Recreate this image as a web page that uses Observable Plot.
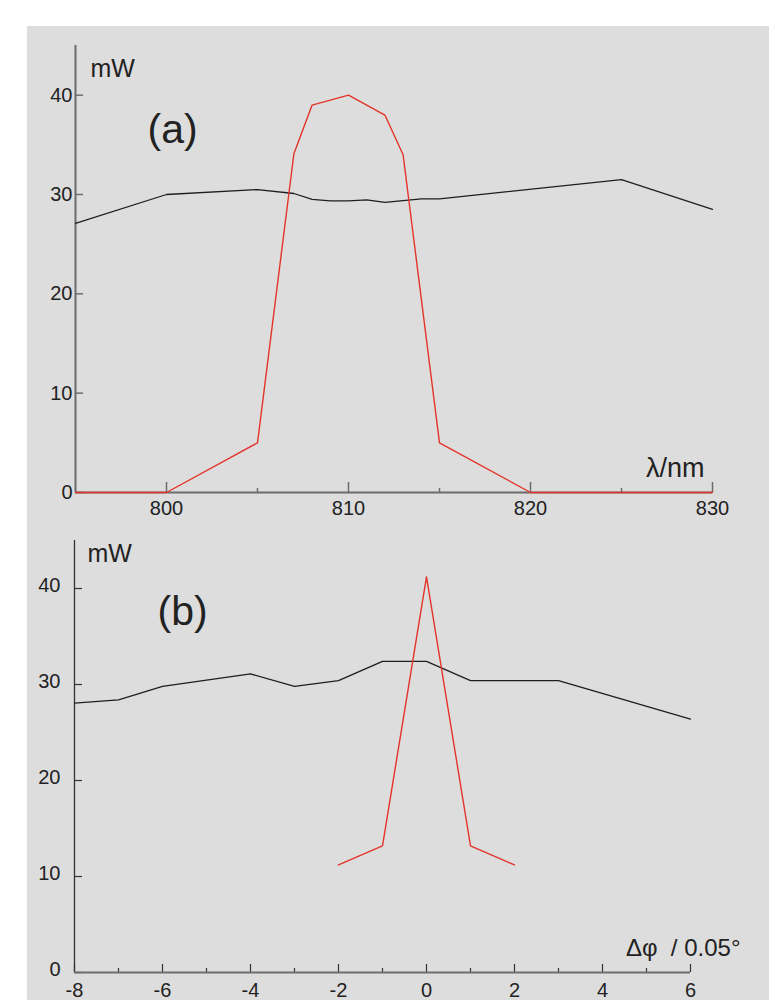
<!DOCTYPE html>
<html><head><meta charset="utf-8">
<script src="https://cdn.jsdelivr.net/npm/d3@7"></script>
<script src="https://cdn.jsdelivr.net/npm/@observablehq/plot@0.6"></script>
<style>
body{margin:0;background:#fff;width:769px;height:1000px;position:relative;overflow:hidden;font-family:"Liberation Sans",Arial,sans-serif}
#bg{position:absolute;left:27px;top:26px;width:742px;height:974px;background:#dddddd}
.panel{position:absolute;left:27px}
</style></head><body>
<div id="bg"></div>
<div id="a" class="panel" style="top:26px"></div>
<div id="b" class="panel" style="top:530px"></div>
<script>
// ---- Panel (a): power vs wavelength ----
const wavelengthBlack = [795, 800, 805, 807, 808, 809, 810, 811, 812, 814, 815, 825, 830];
const powerBlackA     = [27.1, 30.0, 30.5, 30.1, 29.5, 29.35, 29.35, 29.45, 29.2, 29.55, 29.55, 31.5, 28.5];
const wavelengthRed   = [795, 800, 805, 807, 808, 810, 812, 813, 815, 820, 830];
const powerRedA       = [0, 0, 5, 34.1, 39, 40, 38, 34, 5, 0, 0];
const xDomainA = [795, 830];
const xMajorA = [800, 810, 820, 830];
const xMinorA = [805, 815, 825];
const yTicksA = [0, 10, 20, 30, 40];

// ---- Panel (b): power vs angle offset ----
const angleBlack  = [-8, -7, -6, -4, -3, -2, -1, 0, 1, 3, 6];
const powerBlackB = [28.05, 28.4, 29.8, 31.1, 29.8, 30.4, 32.4, 32.4, 30.4, 30.4, 26.4];
const angleRed    = [-2, -1, 0, 1, 2];
const powerRedB   = [11.2, 13.2, 41.2, 13.2, 11.2];
const xDomainB = [-8, 6];
const xMajorB = [-8, -6, -4, -2, 0, 2, 4, 6];
const xMinorB = [-7, -5, -3, -1, 1, 3, 5];
const yTicksB = [0, 10, 20, 30, 40];
const yDomain = [0, 45];

const font = '"Liberation Sans", Arial, sans-serif';
const RED = "#e4342a", BLACK = "#1e1e1e", AXIS = "#6c6c6c";
const rowsOf = (xs, ys) => xs.map((x, i) => ({x, y: ys[i]}));
const label = (s, opts) => Plot.text([s], {text: d => d, lineAnchor: "middle", fill: "#222", ...opts});

const plotA = Plot.plot({
  width: 742, height: 504,
  marginLeft: 48, marginRight: 57, marginTop: 19, marginBottom: 38,
  style: {background: "transparent", fontFamily: font, color: "#222", overflow: "visible"},
  x: {domain: xDomainA},
  y: {domain: yDomain},
  marks: [
    Plot.axisY(yTicksA, {tickSize: -8, tickFormat: () => "", label: null, color: AXIS, strokeWidth: 1.5}),
    Plot.axisY(yTicksA, {tickSize: 0, tickPadding: 3, label: null, fontSize: 20}),
    Plot.axisX(xMajorA, {tickSize: -10, tickFormat: () => "", label: null, color: AXIS, strokeWidth: 1.5}),
    Plot.axisX(xMinorA, {tickSize: -4, tickFormat: () => "", label: null, color: AXIS, strokeWidth: 1.5}),
    Plot.axisX(xMajorA, {tickSize: 0, tickPadding: 8, label: null, fontSize: 20}),
    Plot.ruleX([xDomainA[0]], {stroke: AXIS, strokeWidth: 2}),
    Plot.ruleY([yDomain[0]], {stroke: AXIS, strokeWidth: 2}),
    Plot.line(rowsOf(wavelengthBlack, powerBlackA), {x: "x", y: "y", stroke: BLACK, strokeWidth: 1.3}),
    Plot.line(rowsOf(wavelengthRed, powerRedA), {x: "x", y: "y", stroke: RED, strokeWidth: 1.4}),
    label("mW", {frameAnchor: "top-left", textAnchor: "start", dx: 15, dy: 23, fontSize: 25}),
    label("(a)", {frameAnchor: "top-left", textAnchor: "start", dx: 72, dy: 84, fontSize: 41}),
    label("λ/nm", {frameAnchor: "bottom-right", textAnchor: "end", dx: -8, dy: -24, fontSize: 27})
  ]
});
document.getElementById("a").appendChild(plotA);

const plotB = Plot.plot({
  width: 742, height: 470,
  marginLeft: 47, marginRight: 79, marginTop: 10, marginBottom: 28,
  style: {background: "transparent", fontFamily: font, color: "#222", overflow: "visible"},
  x: {domain: xDomainB},
  y: {domain: yDomain},
  marks: [
    Plot.axisY(yTicksB, {tickSize: -8, tickFormat: () => "", label: null, color: "#333", strokeWidth: 1.2}),
    Plot.axisY(yTicksB, {tickSize: 0, tickPadding: 14, label: null, fontSize: 20, dy: -3}),
    Plot.axisX(xMajorB, {tickSize: -8, tickFormat: () => "", label: null, color: "#333", strokeWidth: 1.2}),
    Plot.axisX(xMinorB, {tickSize: -4, tickFormat: () => "", label: null, color: "#333", strokeWidth: 1.2}),
    Plot.axisX(xMajorB, {tickSize: 0, tickPadding: 10, label: null, fontSize: 20, tickFormat: d => String(d)}),
    Plot.ruleX([xDomainB[0]], {stroke: "#333", strokeWidth: 1.3}),
    Plot.ruleY([yDomain[0]], {stroke: AXIS, strokeWidth: 2}),
    Plot.line(rowsOf(angleBlack, powerBlackB), {x: "x", y: "y", stroke: BLACK, strokeWidth: 1.3}),
    Plot.line(rowsOf(angleRed, powerRedB), {x: "x", y: "y", stroke: RED, strokeWidth: 1.4}),
    label("mW", {frameAnchor: "top-left", textAnchor: "start", dx: 13, dy: 13, fontSize: 25}),
    label("(b)", {frameAnchor: "top-left", textAnchor: "start", dx: 83, dy: 71, fontSize: 41}),
    label("Δφ\u00a0\u00a0/ 0.05°", {frameAnchor: "bottom-right", textAnchor: "end", dx: 50, dy: -24, fontSize: 24})
  ]
});
document.getElementById("b").appendChild(plotB);
</script>
</body></html>
